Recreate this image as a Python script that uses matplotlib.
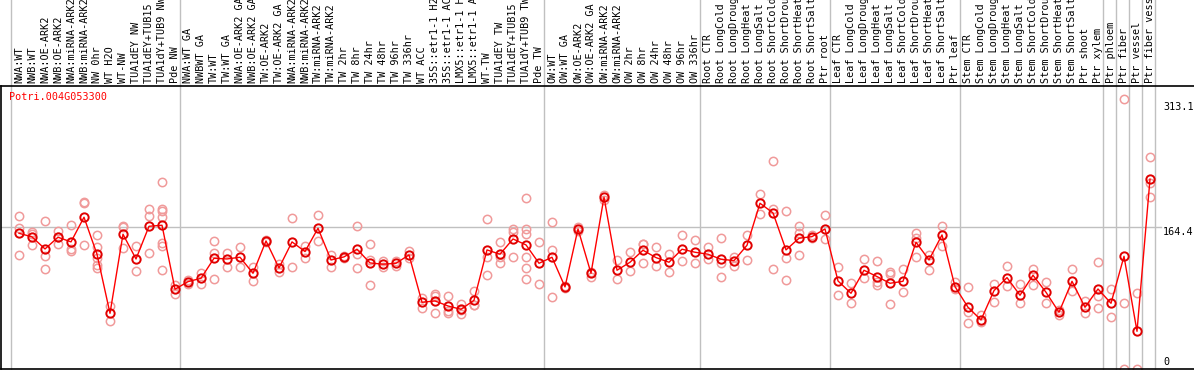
import matplotlib
matplotlib.use("Agg")
import matplotlib.pyplot as plt

# =====================================================
# DATA
# =====================================================

gene_id = "Potri.004G053300"

labels = [
    "NWA:WT", "NWB:WT", "NWA:OE-ARK2", "NWB:OE-ARK2", "NWA:miRNA-ARK2",
    "NWB:miRNA-ARK2", "NW 0hr", "WT H2O", "WT-NW", "TUA1dEY NW",
    "TUA1dEY+TUB15 NW", "TUA1dY+TUB9 NW", "Pde NW",
    "NWA:WT GA", "NWBWT GA", "TW:WT", "TW:WT GA", "NWA:OE-ARK2 GA",
    "NWB:OE-ARK2 GA", "TW:OE-ARK2", "TW:OE-ARK2 GA", "NWA:miRNA-ARK2",
    "NWB:miRNA-ARK2", "TW:miRNA-ARK2", "TW:miRNA-ARK2", "TW 2hr", "TW 8hr",
    "TW 24hr", "TW 48hr", "TW 96hr", "TW 336hr", "WT ACC",
    "35S::etr1-1 H2O", "35S::etr1-1 ACC", "LMX5::etr1-1 H2O",
    "LMX5::etr1-1 ACC", "WT-TW", "TUA1dEY TW", "TUA1dEY+TUB15 TW",
    "TUA1dY+TUB9 TW", "Pde TW",
    "OW:WT", "OW:WT GA", "OW:OE-ARK2", "OW:OE-ARK2 GA", "OW:miRNA-ARK2",
    "OW:miRNA-ARK2", "OW 2hr", "OW 8hr", "OW 24hr", "OW 48hr", "OW 96hr",
    "OW 336hr",
    "Root CTR", "Root LongCold", "Root LongDrought", "Root LongHeat",
    "Root LongSalt", "Root ShortCold", "Root ShortDrought", "Root ShortHeat",
    "Root ShortSalt", "Ptr root",
    "Leaf CTR", "Leaf LongCold", "Leaf LongDrought", "Leaf LongHeat",
    "Leaf LongSalt", "Leaf ShortCold", "Leaf ShortDrought", "Leaf ShortHeat",
    "Leaf ShortSalt", "Ptr leaf",
    "Stem CTR", "Stem LongCold", "Stem LongDrought", "Stem LongHeat",
    "Stem LongSalt", "Stem ShortCold", "Stem ShortDrought", "Stem ShortHeat",
    "Stem ShortSalt", "Ptr shoot", "Ptr xylem",
    "Ptr phloem", "Ptr fiber", "Ptr vessel", "Ptr fiber vessel",
]

group_sizes = [13, 28, 12, 10, 10, 11, 1, 1, 1, 1]

means = [
    157.4, 153.2, 139.2, 152.8, 147.4, 176.0, 133.1, 64.6, 156.3, 127.6,
    165.5, 166.7, 92.5,
    101.3, 105.2, 128.4, 127.6, 129.6, 111.0, 148.5, 117.2, 147.4, 136.2,
    163.2, 126.5, 130.0, 138.9, 123.0, 121.5, 122.6, 132.3, 77.4, 78.9,
    73.1, 69.2, 79.7, 138.1, 133.1, 150.8, 143.9, 122.6,
    129.6, 95.2, 162.4, 111.0, 199.2, 114.5, 123.8, 137.7, 129.2, 123.8,
    138.9, 135.4,
    133.1, 127.3, 125.7, 143.5, 192.2, 181.0, 138.1, 151.6, 153.5, 162.4,
    102.1, 87.8, 114.5, 107.2, 99.4, 101.7, 147.0, 126.5, 155.5, 95.5,
    71.6, 56.9, 90.9, 106.0, 85.5, 108.7, 89.0, 65.8, 101.7, 71.6, 92.8,
    76.2, 130.7, 43.7, 220.1,
]

replicates = [
    [177.5, 163.2, 131.9], [159.4, 156.3, 143.5], [171.7, 130.7, 116.0],
    [160.1, 152.8, 145.4], [167.1, 138.6, 136.5], [194.2, 192.6, 143.5],
    [155.5, 142.0, 128.4, 120.7, 117.6], [73.5, 56.1],
    [165.9, 164.8, 140.0], [142.3, 113.7], [185.3, 177.9, 134.6],
    [216.6, 185.6, 183.3, 176.8, 145.8, 143.1, 114.9], [97.5, 87.4],
    [103.7, 98.6], [111.8, 98.6], [148.5, 134.2, 104.1], [135.0, 118.7],
    [141.2, 118.0], [118.7, 102.1], [149.3, 147.4], [121.4, 113.0],
    [174.8, 118.0], [142.7, 128.8], [178.3, 148.5], [132.3, 118.7],
    [131.0, 129.0], [165.5, 133.8, 117.2], [145.0, 126.5, 97.5],
    [125.0, 118.0], [125.7, 119.5], [136.5, 128.8], [82.0, 71.2],
    [87.0, 85.1, 64.6], [84.7, 67.3, 65.0], [75.4, 68.0, 64.0],
    [90.5, 74.3, 74.3], [173.7, 130.4, 108.7], [147.4, 130.0, 122.6],
    [162.4, 158.6, 130.4], [198.4, 162.1, 157.0, 129.6, 117.2, 104.1],
    [147.0, 98.3],
    [170.6, 138.1, 83.6], [96.0, 94.4], [164.4, 160.5], [113.0, 107.2],
    [201.9, 196.1], [126.1, 104.1], [135.4, 113.3], [145.4, 145.0, 122.6],
    [141.2, 119.9], [133.1, 112.2], [155.1, 124.9], [149.3, 122.6],
    [141.2, 127.6], [151.6, 122.6, 106.4], [129.6, 119.5], [155.9, 126.1],
    [202.7, 180.2], [240.9, 185.3, 115.6], [182.9, 128.4, 102.9],
    [165.9, 157.4, 131.9], [151.6, 155.5], [178.3, 150.5],
    [118.4, 85.9], [99.4, 76.2], [127.6, 105.2], [125.3, 101.3, 97.5],
    [113.0, 109.9, 75.4], [116.0, 89.0], [158.2, 152.4, 129.6],
    [132.3, 114.5], [165.9, 143.1], [101.3, 92.8],
    [94.8, 66.2, 53.0], [62.7, 55.0], [98.6, 78.1], [119.1, 96.3],
    [98.3, 76.6], [116.4, 97.1], [100.6, 77.0], [68.9, 62.3],
    [116.0, 90.9], [78.9, 65.0], [124.2, 84.3, 70.4],
    [92.8, 60.0], [313.1, 77.0, 0.0], [87.8, 0.0], [245.6, 215.4, 199.2],
]

max_value = 313.1
ref_value = 164.4

# =====================================================
# FIGURE
# =====================================================

fig = plt.figure(figsize=(11.94, 3.70), dpi=100)

ax = fig.add_axes([1 / 1194, 1 / 370, 1193 / 1194, 283.5 / 370])

n = len(labels)
xs = list(range(n))

# replicate points
for i, reps in enumerate(replicates):

    ax.plot(
        [i] * len(reps),
        reps,
        linestyle="none",
        marker="o",
        markersize=6,
        markerfacecolor="none",
        markeredgecolor="#f09a9a",
        markeredgewidth=1.1,
        zorder=2
    )

# mean line
ax.plot(
    xs,
    means,
    color="#ff0000",
    linewidth=1,
    marker="o",
    markersize=6,
    markerfacecolor="none",
    markeredgecolor="#e00000",
    markeredgewidth=1.4,
    zorder=3
)

ax.set_xlim((1 - 19) / 13, (1194 - 19) / 13)
ax.set_ylim(0, max_value * 1.05)

# =====================================
# Separators / reference line
# =====================================

start = 0

ax.axvline(start - 0.6, ymin=0, ymax=1.31, color="#c0c0c0",
           linewidth=1, clip_on=False, zorder=1)

for size in group_sizes:

    start += size

    ax.axvline(
        start - 0.6,
        ymin=0,
        ymax=1.31,
        color="#c0c0c0",
        linewidth=1,
        clip_on=False,
        zorder=1
    )

ax.axhline(ref_value, xmax=0.972, color="#c0c0c0", linewidth=1, zorder=1)

# =====================================
# Labels
# =====================================

ax.xaxis.tick_top()
ax.set_xticks(xs)
ax.set_xticklabels(labels, rotation=90, fontfamily="DejaVu Sans Mono",
                   fontsize=7.3)
ax.tick_params(axis="x", length=0, pad=1.5)
ax.set_yticks([])

ax.text(
    0.007,
    0.958,
    gene_id,
    transform=ax.transAxes,
    color="red",
    fontfamily="DejaVu Sans Mono",
    fontsize=7.3,
    va="center",
    ha="left"
)

for value, offset in [(max_value, -8), (ref_value, -5), (0, 7)]:

    ax.annotate(
        f"{value:g}",
        (n, value),
        xytext=(0, offset),
        textcoords="offset pixels",
        ha="left",
        va="center",
        fontfamily="DejaVu Sans Mono",
        fontsize=7.3,
        annotation_clip=False
    )

ax.spines["right"].set_visible(False)

for side in ["top", "bottom", "left"]:
    ax.spines[side].set_linewidth(1.2)

fig.savefig("out.png", dpi=100)
